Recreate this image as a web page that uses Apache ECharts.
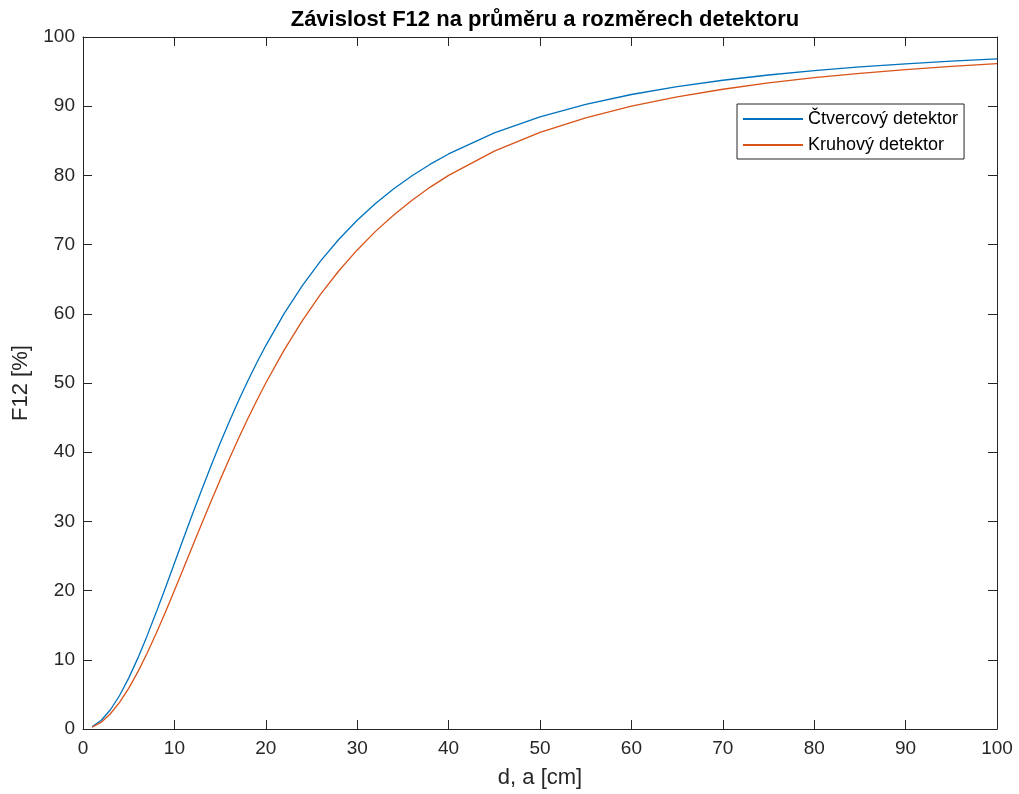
<!DOCTYPE html>
<html>
<head>
<meta charset="utf-8">
<script src="https://cdn.jsdelivr.net/npm/echarts@6/dist/echarts.min.js"></script>
<style>
html,body{margin:0;padding:0;background:#fff;}
#chart{width:1019px;height:794px;}
</style>
</head>
<body>
<div id="chart"></div>
<script>
// d, a [cm]
const xValues = [1,2,3,4,5,6,7,8,9,10,11,12,13,14,15,16,17,18,19,20,22,24,26,28,30,32,34,36,38,40,45,50,55,60,65,70,75,80,85,90,95,100];
// Čtvercový detektor, F12 [%]
const squareValues = [0.32,1.26,2.78,4.84,7.35,10.24,13.42,16.82,20.35,23.95,27.56,31.13,34.62,38.02,41.29,44.41,47.39,50.22,52.89,55.41,60.02,64.07,67.64,70.77,73.52,75.94,78.07,79.95,81.62,83.10,86.15,88.47,90.27,91.69,92.83,93.75,94.51,95.14,95.67,96.12,96.50,96.83];
// Kruhový detektor, F12 [%]
const circleValues = [0.25,0.99,2.20,3.85,5.88,8.26,10.91,13.79,16.84,20.00,23.22,26.47,29.70,32.89,36.00,39.02,41.94,44.75,47.44,50.00,54.75,59.02,62.83,66.22,69.23,71.91,74.29,76.42,78.31,80.00,83.51,86.21,88.32,90.00,91.35,92.45,93.36,94.12,94.75,95.29,95.76,96.15];
const seriesNames = ['Čtvercový detektor', 'Kruhový detektor'];
const titleText = 'Závislost F12 na průměru a rozměrech detektoru';
const xName = 'd, a [cm]';
const yName = 'F12 [%]';

const font = 'Liberation Sans, Arial, Helvetica, sans-serif';
const axisColor = '#262626';

function pairs(xs, ys){ return xs.map((x,i)=>[x, ys[i]]); }

const chart = echarts.init(document.getElementById('chart'));
const baseAxisLine = {show:true, onZero:false, lineStyle:{color:axisColor, width:1}};
const tick = {show:true, inside:true, length:9, lineStyle:{color:axisColor, width:1}};
chart.setOption({
  animation:false,
  backgroundColor:'#ffffff',
  title:{
    text:titleText, left:540, textAlign:'center', top:4,
    textStyle:{fontFamily:font, fontSize:22, fontWeight:'bold', color:'#000'}
  },
  legend:{
    orient:'vertical', left:737, top:104,
    padding:[6,6,5,6], itemGap:8, itemWidth:60, itemHeight:2, icon:'rect',
    backgroundColor:'#fff', borderColor:axisColor, borderWidth:1, borderRadius:0,
    textStyle:{fontFamily:font, fontSize:18, color:'#000'},
    data:seriesNames
  },
  grid:{left:83, right:22, top:37, bottom:62, containLabel:false},
  xAxis:[
    {type:'value', min:0, max:100, interval:10, position:'bottom',
     name:xName, nameLocation:'middle', nameGap:38,
     nameTextStyle:{fontFamily:font, fontSize:22, color:axisColor},
     axisLine:baseAxisLine, axisTick:tick, splitLine:{show:false},
     axisLabel:{fontFamily:font, fontSize:19, color:axisColor, margin:10}},
    {type:'value', min:0, max:100, interval:10, position:'top',
     axisLine:baseAxisLine, axisTick:tick, splitLine:{show:false}, axisLabel:{show:false}}
  ],
  yAxis:[
    {type:'value', min:0, max:100, interval:10, position:'left',
     name:yName, nameLocation:'middle', nameGap:50,
     nameTextStyle:{fontFamily:font, fontSize:22, color:axisColor},
     axisLine:baseAxisLine, axisTick:tick, splitLine:{show:false},
     axisLabel:{fontFamily:font, fontSize:19, color:axisColor, margin:8}},
    {type:'value', min:0, max:100, interval:10, position:'right',
     axisLine:baseAxisLine, axisTick:tick, splitLine:{show:false}, axisLabel:{show:false}}
  ],
  series:[
    {name:seriesNames[0], type:'line', data:pairs(xValues, squareValues),
     symbol:'none', smooth:false,
     lineStyle:{color:'#0072BD', width:1.3}, itemStyle:{color:'#0072BD'}},
    {name:seriesNames[1], type:'line', data:pairs(xValues, circleValues),
     symbol:'none', smooth:false,
     lineStyle:{color:'#D95319', width:1.3}, itemStyle:{color:'#D95319'}}
  ]
});
</script>
</body>
</html>
